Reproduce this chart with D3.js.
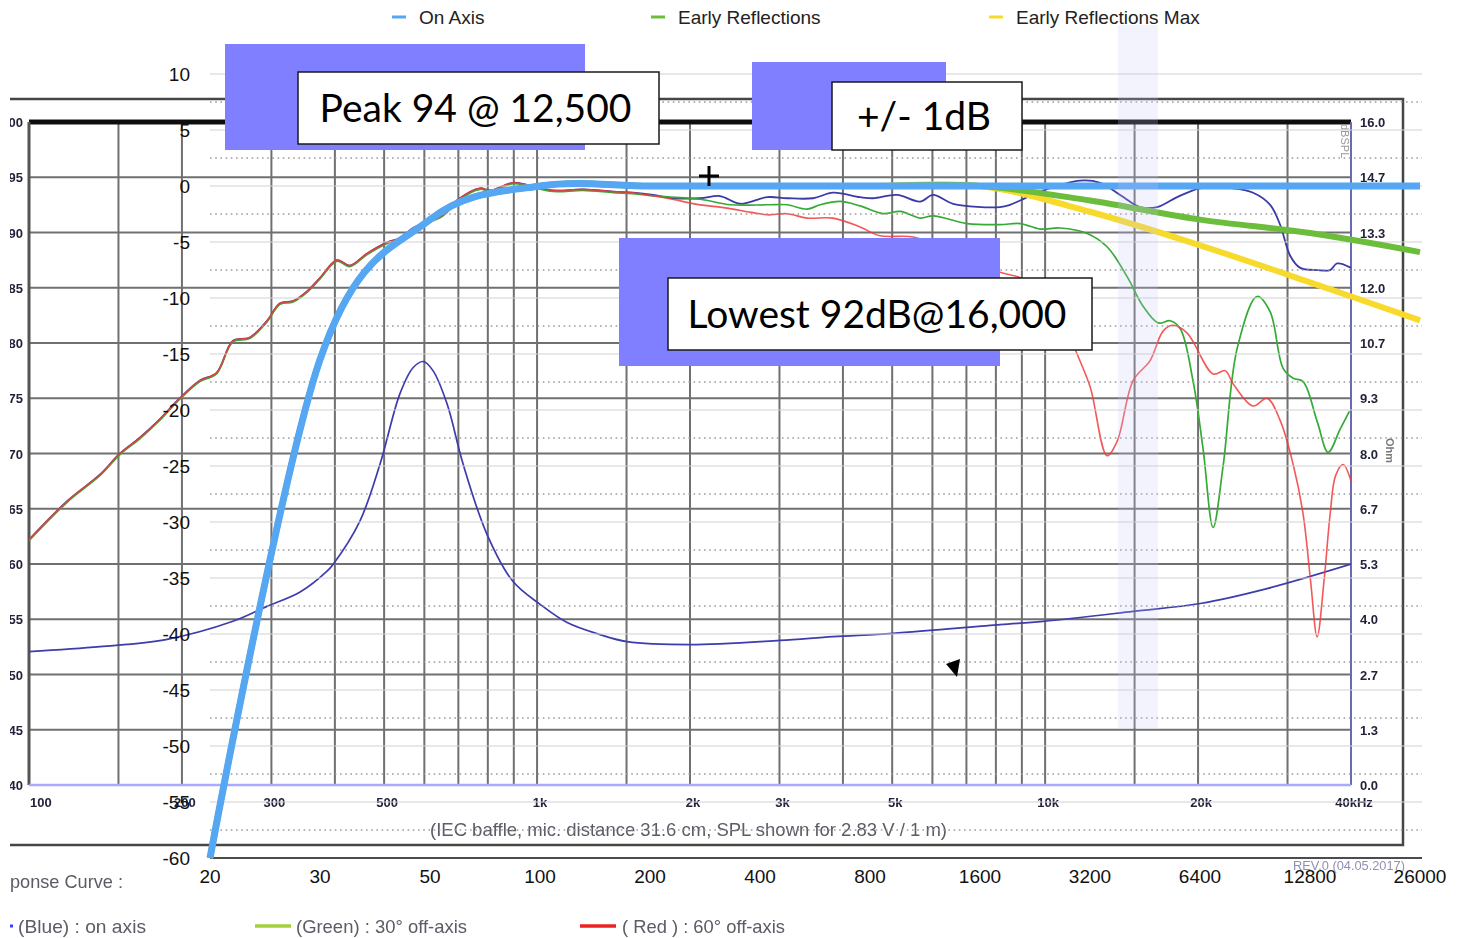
<!DOCTYPE html>
<html>
<head>
<meta charset="utf-8">
<script src="https://cdn.jsdelivr.net/npm/d3@7"></script>
<style>
  body { margin: 0; background: #fff; overflow: hidden; }
  svg { display: block; }
  text { font-family: 'Liberation Sans', Arial, sans-serif; }
</style>
</head>
<body>
<div id="graf"></div>
<script>
// I. Datos del gráfico superpuesto (dB relativos)
categorias = ['20', '30', '50', '100', '200', '400', '800', '1600', '3200', '6400', '12800', '26000']
onAxis   = [-60, -15.5, -3, 0, 0, 0, 0, 0, 0, 0, 0, 0]
early    = [-60, -15.5, -3, 0, 0, 0, 0, 0, -1.3, -3.0, -4.2, -5.9]
earlyMax = [-60, -15.5, -3, 0, 0, 0, 0, 0, -2.3, -5.3, -8.6, -12.0]
yTicks   = [10, 5, 0, -5, -10, -15, -20, -25, -30, -35, -40, -45, -50, -55, -60]

series = [
  { nombre: 'Early Reflections Max', valores: earlyMax, color: '#f7da2b', ancho: 6 },
  { nombre: 'Early Reflections', valores: early, color: '#6cbd3c', ancho: 6 },
  { nombre: 'On Axis', valores: onAxis, color: '#55a6f3', ancho: 7 }
]
leyenda = ['On Axis', 'Early Reflections', 'Early Reflections Max']

notas = ['Peak 94 @ 12,500', '+/- 1dB', 'Lowest 92dB@16,000']

// II. Datos de la hoja de medición del fondo [Hz, dB] e impedancia [Hz, Ohm]
splComun = [[100, 62.2], [119, 65.7], [138, 68.1], [151, 70.0], [165, 71.4], [181, 73.1], [198, 75.0],
  [217, 76.6], [234, 77.3], [252, 80.2], [272, 80.5], [294, 82.0], [312, 83.6], [331, 83.8], [353, 84.7],
  [374, 85.9], [404, 87.5], [428, 87.0], [463, 88.1], [507, 89.1], [537, 89.5], [570, 90.4], [653, 91.6],
  [700, 93.0], [772, 94.0], [808, 93.8], [897, 94.5], [956, 94.3], [1075, 93.8], [1232, 93.9],
  [1411, 93.7], [1545, 93.6]]
splAzul = [[1692, 93.4], [1852, 93.1], [2094, 93.1], [2292, 93.3], [2510, 92.6], [2837, 93.2], [3106, 93.1],
  [3495, 93.1], [3825, 93.6], [4323, 93.2], [4585, 93.1], [5112, 93.4], [5675, 92.8], [6020, 93.4],
  [6590, 92.6], [8150, 92.3], [8530, 92.5], [8930, 92.9], [9910, 93.8], [11720, 94.7], [12830, 94.5],
  [14050, 93.4], [15380, 92.3], [16620, 92.3], [18190, 93.2], [20190, 94.0], [23450, 94.0], [25670, 93.6],
  [27730, 92.5], [29010, 90.7], [30360, 87.9], [31770, 86.8], [34310, 86.6], [36390, 86.6], [37560, 87.2],
  [40000, 86.8]]
splVerde = [[1692, 93.4], [2094, 93.1], [2400, 92.6], [2837, 92.6], [3106, 92.6], [3400, 92.2], [3606, 92.6],
  [3950, 92.9], [4323, 92.5], [4798, 91.8], [5183, 92.0], [5675, 91.4], [6020, 91.6], [7020, 90.9],
  [8150, 90.8], [8930, 90.9], [9780, 90.4], [10700, 90.5], [12100, 90.0], [13240, 88.8], [14500, 86.1],
  [15600, 83.4], [16700, 81.9], [17620, 82.1], [18440, 81.4], [19560, 76.6], [20460, 70.5], [21410, 63.4],
  [22410, 69.0], [23880, 79.6], [26140, 84.3], [27730, 82.9], [29410, 77.8], [30780, 76.9], [32200, 76.6],
  [34310, 73.0], [36070, 70.2], [38080, 72.3], [39700, 73.9]]
splRojo = [[1803, 93.1], [2094, 92.5], [2292, 92.3], [2662, 91.8], [2837, 91.6], [3106, 91.7], [3400, 91.3],
  [3825, 91.3], [4323, 90.5], [4733, 89.7], [5500, 89.6], [6500, 88.4], [7450, 87.3], [8150, 86.4],
  [8930, 85.9], [10230, 83.8], [10950, 81.6], [11560, 79.0], [12270, 76.0], [13240, 69.8], [13860, 71.1],
  [14900, 76.6], [16090, 78.4], [17080, 81.1], [17860, 81.6], [19040, 80.9], [21410, 77.2], [22620, 77.5],
  [23450, 76.3], [25670, 74.3], [27340, 75.0], [29010, 73.0], [30780, 69.0], [32200, 64.5], [33300, 58.5],
  [34310, 53.4], [35400, 58.5], [36390, 64.5], [37300, 68.0], [38600, 69.0], [40000, 67.5]]
impedancia = [[100, 3.22], [138, 3.34], [186, 3.51], [252, 3.95], [294, 4.31], [341, 4.65], [386, 5.16],
  [397, 5.33], [448, 6.37], [491, 7.75], [537, 9.44], [570, 10.07], [597, 10.22], [624, 10.0], [665, 9.2],
  [715, 7.75], [797, 6.05], [897, 4.91], [1014, 4.36], [1146, 3.92], [1330, 3.63], [1504, 3.46],
  [2000, 3.39], [3007, 3.49], [3825, 3.58], [5020, 3.66], [8150, 3.87], [9910, 3.95], [14900, 4.19],
  [20190, 4.38], [27340, 4.74], [40000, 5.33]]

frecRejilla = [100, 150, 200, 300, 400, 500, 600, 700, 800, 900, 1000, 1500, 2000, 3000, 4000, 5000,
  6000, 7000, 8000, 9000, 10000, 15000, 20000, 30000, 40000]
frecEtiquetas = [[200, '200'], [300, '300'], [500, '500'], [1000, '1k'], [2000, '2k'], [3000, '3k'],
  [5000, '5k'], [10000, '10k'], [20000, '20k'], [40000, '40kHz']]
splTicks = [100, 95, 90, 85, 80, 75, 70, 65, 60, 55, 50, 45, 40]
ohmTicks = ['16.0', '14.7', '13.3', '12.0', '10.7', '9.3', '8.0', '6.7', '5.3', '4.0', '2.7', '1.3', '0.0']

// III. Configuración
svg = d3.select('#graf').append('svg')
        .attr('width', 1460)
        .attr('height', 938)

defs = svg.append('defs')
defs.append('filter').attr('id', 'suave')
    .append('feGaussianBlur').attr('stdDeviation', 0.45)
defs.append('clipPath').attr('id', 'recorte')
    .append('rect').attr('x', 10).attr('y', 0).attr('width', 1450).attr('height', 938)
defs.append('clipPath').attr('id', 'areaFondo')
    .append('rect').attr('x', 29).attr('y', 122).attr('width', 1322).attr('height', 663)

// escalas del fondo
fx   = d3.scaleLog().domain([100, 40000]).range([29, 1351])
fSpl = d3.scaleLinear().domain([40, 100]).range([785, 122])
fOhm = d3.scaleLinear().domain([0, 16]).range([785, 122])

// escalas del gráfico superpuesto
x = d3.scalePoint().domain(categorias).range([210, 1420])
y = d3.scaleLinear().domain([-60, 10]).range([858, 74])

// IV. Fondo (hoja de medición)
fondo = svg.append('g')
           .attr('clip-path', 'url(#recorte)')
           .attr('filter', 'url(#suave)')

// marco exterior
fondo.append('path')
     .attr('d', 'M0,99 H1403 V845 H0')
     .attr('fill', 'none')
     .attr('stroke', '#444')
     .attr('stroke-width', 2.5)

rejilla = fondo.append('g')
rejilla.selectAll('.gv')
       .data(frecRejilla.slice(1, -1))
       .enter().append('line')
         .attr('x1', d => fx(d)).attr('x2', d => fx(d))
         .attr('y1', fSpl(100)).attr('y2', fSpl(40))
         .attr('stroke', '#707070')
         .attr('stroke-width', 2)
rejilla.selectAll('.gh')
       .data(splTicks.slice(1, -1))
       .enter().append('line')
         .attr('x1', fx(100)).attr('x2', fx(40000))
         .attr('y1', d => fSpl(d)).attr('y2', d => fSpl(d))
         .attr('stroke', '#707070')
         .attr('stroke-width', 2)

// bordes del área de medición
fondo.append('line').attr('x1', 29).attr('x2', fx(40000)).attr('y1', fSpl(100)).attr('y2', fSpl(100))
     .attr('stroke', '#111').attr('stroke-width', 5)
fondo.append('line').attr('x1', fx(100)).attr('x2', fx(100)).attr('y1', fSpl(100)).attr('y2', fSpl(40))
     .attr('stroke', '#555').attr('stroke-width', 3)
fondo.append('line').attr('x1', fx(40000)).attr('x2', fx(40000)).attr('y1', fSpl(100)).attr('y2', fSpl(40))
     .attr('stroke', '#6a6ab4').attr('stroke-width', 2)
fondo.append('line').attr('x1', fx(100)).attr('x2', fx(40000)).attr('y1', fSpl(40)).attr('y2', fSpl(40))
     .attr('stroke', '#a9a9ff').attr('stroke-width', 2.5)

// etiquetas de los ejes del fondo
etiq = fondo.append('g')
            .style('font-family', "'Liberation Sans Narrow', 'Liberation Sans', sans-serif")
            .style('font-weight', 'bold')
            .style('font-size', '13px')
            .attr('fill', '#24243c')
etiq.selectAll('.spl')
    .data(splTicks)
    .enter().append('text')
      .attr('x', 23)
      .attr('y', d => fSpl(d) + 5)
      .attr('text-anchor', 'end')
      .text(d => d)
etiq.selectAll('.ohm')
    .data(ohmTicks)
    .enter().append('text')
      .attr('x', 1360)
      .attr('y', (d, i) => fSpl(splTicks[i]) + 5)
      .text(d => d)
etiq.append('text').attr('x', 30).attr('y', 807).text('100')
etiq.selectAll('.frec')
    .data(frecEtiquetas)
    .enter().append('text')
      .attr('x', d => fx(d[0]) + 3)
      .attr('y', 807)
      .attr('text-anchor', 'middle')
      .text(d => d[1])
fondo.append('text')
     .attr('transform', 'translate(1386,438) rotate(90)')
     .style('font-size', '11px').style('font-weight', 'bold')
     .attr('fill', '#777')
     .text('Ohm')
fondo.append('text')
     .attr('transform', 'translate(1341,124) rotate(90)')
     .style('font-size', '11px')
     .attr('fill', '#999')
     .text('dBSPL')

// curvas medidas (el rojo queda encima en graves, como en la hoja)
curvas = fondo.append('g').attr('clip-path', 'url(#areaFondo)')
lineaSpl = d3.line().x(d => fx(d[0])).y(d => fSpl(d[1])).curve(d3.curveCatmullRom)
lineaOhm = d3.line().x(d => fx(d[0])).y(d => fOhm(d[1])).curve(d3.curveCatmullRom)

curvas.append('path').datum(impedancia).attr('d', lineaOhm)
      .attr('fill', 'none').attr('stroke', '#3c3cae').attr('stroke-width', 1.7)
curvas.append('path').datum(splComun.concat(splAzul)).attr('d', lineaSpl)
      .attr('fill', 'none').attr('stroke', '#3a3aa8').attr('stroke-width', 1.8)
curvas.append('path').datum(splComun.concat(splVerde)).attr('d', lineaSpl)
      .attr('fill', 'none').attr('stroke', '#35ab35').attr('stroke-width', 1.7)
      .attr('transform', 'translate(0,1)')
curvas.append('path').datum(splComun.concat(splRojo)).attr('d', lineaSpl)
      .attr('fill', 'none').attr('stroke', '#f23b3b').attr('stroke-width', 1.6)
      .attr('stroke-opacity', 0.85)

// textos del pie de la hoja
pie = fondo.append('g')
           .style('font-size', '19px')
           .attr('fill', '#5b5b66')
pie.append('text').attr('x', 430).attr('y', 836)
   .attr('textLength', 517).attr('lengthAdjust', 'spacingAndGlyphs')
   .text('(IEC baffle, mic. distance 31.6 cm, SPL shown for 2.83 V / 1 m)')
pie.append('text').attr('x', 1293).attr('y', 870)
   .attr('textLength', 112).attr('lengthAdjust', 'spacingAndGlyphs')
   .style('font-size', '13px').attr('fill', '#9090b4')
   .text('REV.0 (04.05.2017)')
pie.append('text').attr('x', 10).attr('y', 888)
   .attr('textLength', 113).attr('lengthAdjust', 'spacingAndGlyphs')
   .text('ponse Curve :')
pie.append('line').attr('x1', 2).attr('x2', 13).attr('y1', 926).attr('y2', 926)
   .attr('stroke', '#3a3aff').attr('stroke-width', 3)
pie.append('text').attr('x', 18).attr('y', 933)
   .attr('textLength', 128).attr('lengthAdjust', 'spacingAndGlyphs')
   .text('(Blue)  : on axis')
pie.append('line').attr('x1', 255).attr('x2', 291).attr('y1', 926).attr('y2', 926)
   .attr('stroke', '#a4d03a').attr('stroke-width', 3.5)
pie.append('text').attr('x', 296).attr('y', 933)
   .attr('textLength', 171).attr('lengthAdjust', 'spacingAndGlyphs')
   .text('(Green) : 30° off-axis')
pie.append('line').attr('x1', 580).attr('x2', 616).attr('y1', 926).attr('y2', 926)
   .attr('stroke', '#ec2323').attr('stroke-width', 3.5)
pie.append('text').attr('x', 622).attr('y', 933)
   .attr('textLength', 163).attr('lengthAdjust', 'spacingAndGlyphs')
   .text('( Red ) : 60° off-axis')

// V. Gráfico superpuesto
g = svg.append('g')

g.selectAll('.mayor')
 .data(yTicks.slice(0, -1))
 .enter().append('line')
   .attr('x1', 210).attr('x2', 1422)
   .attr('y1', d => y(d)).attr('y2', d => y(d))
   .attr('stroke', '#d2d2d2')
   .attr('stroke-width', 1.2)

g.selectAll('.menor')
 .data(yTicks.slice(1))
 .enter().append('line')
   .attr('x1', 210).attr('x2', 1422)
   .attr('y1', d => y(d + 2.5)).attr('y2', d => y(d + 2.5))
   .attr('stroke', '#9c9c9c')
   .attr('stroke-width', 1.6)
   .attr('stroke-dasharray', '1.6,3.6')

g.append('line')
 .attr('x1', 210).attr('x2', 1422)
 .attr('y1', y(-60)).attr('y2', y(-60))
 .attr('stroke', '#111')
 .attr('stroke-width', 1.6)

g.selectAll('.ytick')
 .data(yTicks)
 .enter().append('text')
   .attr('x', 190)
   .attr('y', d => y(d) + 7)
   .attr('text-anchor', 'end')
   .style('font-size', '19px')
   .attr('fill', '#111')
   .text(d => d)

g.selectAll('.xtick')
 .data(categorias)
 .enter().append('text')
   .attr('x', d => x(d))
   .attr('y', 883)
   .attr('text-anchor', 'middle')
   .style('font-size', '19px')
   .attr('fill', '#111')
   .text(d => d)

linea = d3.line()
          .x((d, i) => x(categorias[i]))
          .y(d => y(d))
          .curve(d3.curveCardinal.tension(0))

g.selectAll('.serie')
 .data(series)
 .enter().append('path')
   .attr('d', d => linea(d.valores))
   .attr('fill', 'none')
   .attr('stroke', d => d.color)
   .attr('stroke-width', d => d.ancho)
   .attr('stroke-linejoin', 'round')

// franja de selección translúcida
svg.append('rect')
   .attr('x', 1118).attr('y', 25)
   .attr('width', 40).attr('height', 703)
   .attr('fill', 'rgb(200,200,246)')
   .attr('opacity', 0.22)

// leyenda superior
colores = { 'On Axis': '#55a6f3', 'Early Reflections': '#6cbd3c', 'Early Reflections Max': '#f7da2b' }
posLeyenda = [392, 651, 989]
ley = svg.selectAll('.ley')
         .data(leyenda)
         .enter().append('g')
           .attr('transform', (d, i) => `translate(${posLeyenda[i]}, 17)`)
ley.append('line')
   .attr('x1', 0).attr('x2', 14)
   .attr('stroke', d => colores[d])
   .attr('stroke-width', 3)
ley.append('text')
   .attr('x', 27).attr('y', 7)
   .style('font-size', '19px')
   .attr('fill', '#222')
   .text(d => d)

// VI. Anotaciones
cajas = [
  { fondo: [225, 44, 360, 106], caja: [298, 72, 361, 72] },
  { fondo: [752, 62, 194, 88], caja: [832, 82, 190, 68] },
  { fondo: [619, 238, 381, 128], caja: [668, 278, 424, 72] }
]
anot = svg.selectAll('.anot')
          .data(cajas)
          .enter().append('g')
anot.append('rect')
    .attr('x', d => d.fondo[0]).attr('y', d => d.fondo[1])
    .attr('width', d => d.fondo[2]).attr('height', d => d.fondo[3])
    .attr('fill', '#7f7fff')
anot.append('rect')
    .attr('x', d => d.caja[0]).attr('y', d => d.caja[1])
    .attr('width', d => d.caja[2]).attr('height', d => d.caja[3])
    .attr('fill', '#fff')
    .attr('stroke', '#1a1a1a')
    .attr('stroke-width', 1.5)
anot.append('text')
    .attr('x', d => d.caja[0] + d.caja[2] / 2 - 3)
    .attr('y', d => d.caja[1] + d.caja[3] / 2 + 14)
    .attr('text-anchor', 'middle')
    .style('font-family', "Lato, 'Open Sans', sans-serif")
    .style('font-size', '39px')
    .attr('fill', '#000')
    .text((d, i) => notas[i])

// cursor y marca
svg.append('path')
   .attr('d', 'M699,176 H719 M709,166 V186')
   .attr('stroke', '#000')
   .attr('stroke-width', 3)
svg.append('path')
   .attr('d', 'M946,664 L960,659 L957,677 Z')
   .attr('fill', '#000')
</script>
</body>
</html>
